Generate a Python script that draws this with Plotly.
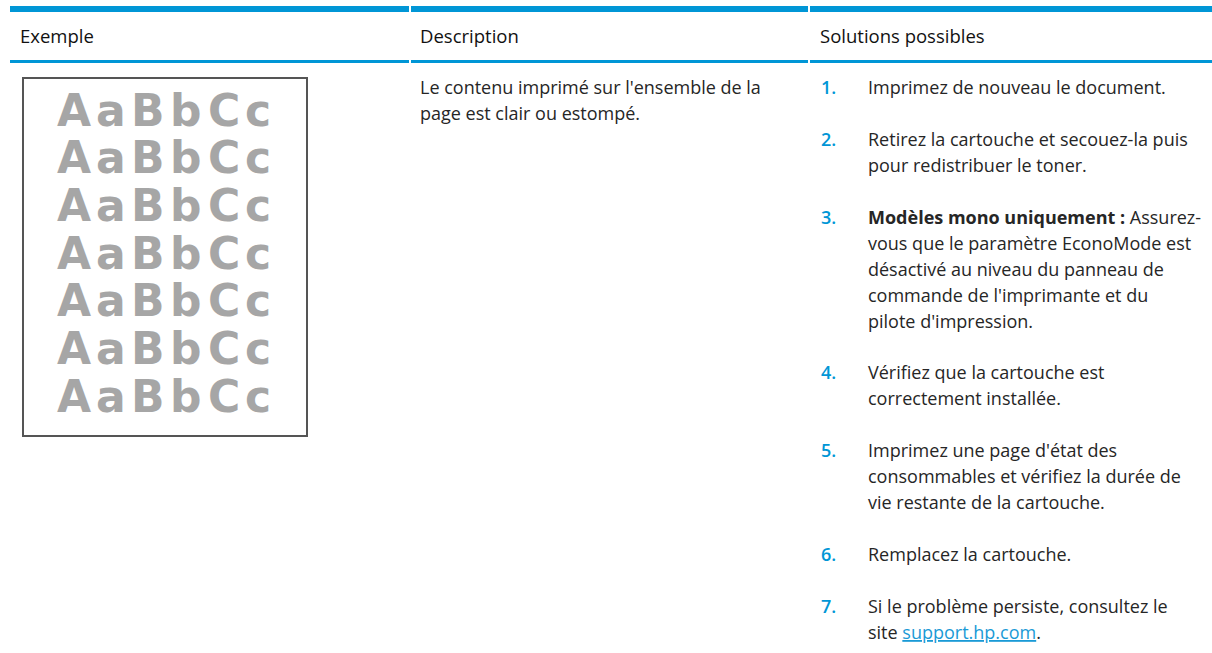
import plotly.graph_objects as go

# ---------------- data ----------------
headers = ["Exemple", "Description", "Solutions possibles"]
sample_word = "AaBbCc"
sample_rows = 7
description_lines = [
    "Le contenu imprimé sur l'ensemble de la",
    "page est clair ou estompé.",
]
solution_numbers = ["1.", "2.", "3.", "4.", "5.", "6.", "7."]
solution_lines = [
    ["Imprimez de nouveau le document."],
    ["Retirez la cartouche et secouez-la puis",
     "pour redistribuer le toner."],
    ["<b>Modèles mono uniquement :</b> Assurez-",
     "vous que le paramètre EconoMode est",
     "désactivé au niveau du panneau de",
     "commande de l'imprimante et du",
     "pilote d'impression."],
    ["Vérifiez que la cartouche est",
     "correctement installée."],
    ["Imprimez une page d'état des",
     "consommables et vérifiez la durée de",
     "vie restante de la cartouche."],
    ["Remplacez la cartouche."],
    ["Si le problème persiste, consultez le",
     "site <a href='https://support.hp.com' style='color:#1a9ad6'><u>support.hp.com</u></a>."],
]

# ---------------- layout constants ----------------
W, H = 1212, 653
BLUE = "#0096d6"
TEXT = "#262626"
GRAY = "#a6a6a6"
FONT = "Open Sans"
BODY_SIZE = 18
PAD = 3                  # inner padding plotly puts around annotation text

col_left = [10, 411, 810]
col_right = [409, 808, 1212]
col_text_x = [21, 421, 821]
num_x = 822
sol_x = 869
first_line_y = 87
line_step = 25.95

box = dict(x0=23, x1=307, y0=78, y1=436)
sample_first_y = 110
sample_step = 47.7
sample_left, sample_right = 54, 273
sample_size = 44
# relative glyph widths of DejaVu Sans Bold
glyph_w = {"A": 0.774, "a": 0.675, "B": 0.762, "b": 0.716, "C": 0.734, "c": 0.593}

fig = go.Figure()
shapes = []
annotations = []

# header rules
for l, r in zip(col_left, col_right):
    shapes.append(dict(type="rect", xref="x", yref="y", x0=l, x1=r, y0=6, y1=12,
                       fillcolor=BLUE, line_width=0, layer="above"))
    shapes.append(dict(type="rect", xref="x", yref="y", x0=l, x1=r, y0=60, y1=63,
                       fillcolor=BLUE, line_width=0, layer="above"))

for txt, x in zip(headers, col_text_x):
    annotations.append(dict(x=x - PAD, y=35, xref="x", yref="y", text=txt, showarrow=False,
                            xanchor="left", yanchor="middle",
                            font=dict(family=FONT, size=18.5, color="#111111")))

# sample box
shapes.append(dict(type="rect", xref="x", yref="y", **box,
                   line=dict(color="#555555", width=2), fillcolor="rgba(0,0,0,0)"))
total = sum(glyph_w[c] for c in sample_word)
scale = (sample_right - sample_left) / total
for r in range(sample_rows):
    y = sample_first_y + r * sample_step
    xc = sample_left
    for ch in sample_word:
        w = glyph_w[ch] * scale
        annotations.append(dict(x=xc + w / 2, y=y, xref="x", yref="y", text=ch,
                                showarrow=False, xanchor="center", yanchor="middle",
                                font=dict(family="DejaVu Sans", size=sample_size,
                                          color=GRAY, weight="bold")))
        xc += w

# description
for i, line in enumerate(description_lines):
    annotations.append(dict(x=col_text_x[1] - PAD, y=first_line_y + i * line_step,
                            xref="x", yref="y",
                            text=line, showarrow=False, xanchor="left", yanchor="middle",
                            font=dict(family=FONT, size=BODY_SIZE, color=TEXT)))

# solutions
k = 0
for num, lines in zip(solution_numbers, solution_lines):
    y0 = first_line_y + k * line_step
    annotations.append(dict(x=num_x - PAD, y=y0, xref="x", yref="y", text=num, showarrow=False,
                            xanchor="left", yanchor="middle",
                            font=dict(family=FONT, size=BODY_SIZE, color=BLUE, weight=600)))
    for j, line in enumerate(lines):
        annotations.append(dict(x=sol_x - PAD, y=y0 + j * line_step, xref="x", yref="y",
                                text=line, showarrow=False, xanchor="left", yanchor="middle",
                                font=dict(family=FONT, size=BODY_SIZE, color=TEXT)))
    k += len(lines) + 1

fig.update_layout(
    width=W, height=H,
    margin=dict(l=0, r=0, t=0, b=0),
    paper_bgcolor="white", plot_bgcolor="white",
    xaxis=dict(range=[0, W], visible=False, fixedrange=True),
    yaxis=dict(range=[H, 0], visible=False, fixedrange=True),
    shapes=shapes, annotations=annotations, showlegend=False,
)
fig.write_html("out.html", config={"displayModeBar": False},
               post_script="document.body.style.margin='0';document.body.style.overflow='hidden';")
